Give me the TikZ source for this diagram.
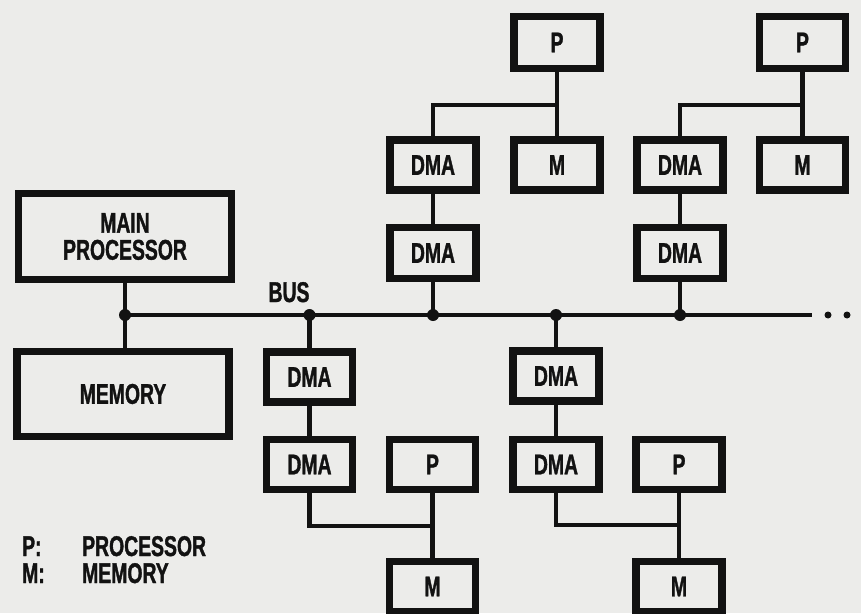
\documentclass[tikz,border=0pt]{standalone}
\usepackage{fontspec}
\newfontfamily\lblfont[FakeStretch=0.68,FakeBold=1.2]{Liberation Sans}
\newcommand\lbl{\lblfont\bfseries\fontsize{28.5}{27}\selectfont}
\definecolor{paper}{RGB}{236,236,234}
\definecolor{ink}{RGB}{18,18,18}
\begin{document}
\begin{tikzpicture}[x=1pt,y=-1pt,
  box/.style={draw=ink, line width=7.5pt, minimum width=86pt, minimum height=50pt, inner sep=0pt, font=\lbl, text=ink},
  ln/.style={draw=ink, line width=4.5pt},
  jdot/.style={circle, fill=ink, inner sep=0pt, minimum size=12pt},
  txt/.style={font=\lbl, text=ink, inner sep=0pt}]
\useasboundingbox (0,0) rectangle (861,613);
\clip (0,0) rectangle (861,613);
\fill[paper] (0,0) rectangle (861,613);

% main processor and memory
\node[box, minimum width=213pt, minimum height=86pt, align=center] (mp) at (125,236.5) {MAIN\\PROCESSOR};
\node[box, minimum width=212pt, minimum height=85pt] (mem) at (123,394) {MEMORY};

% bus
\coordinate (b0) at (125,315);
\coordinate (bend) at (812,315);
\coordinate (j1) at (309.5,315);
\coordinate (j2) at (433,315);
\coordinate (j3) at (556,315);
\coordinate (j4) at (680,315);
\draw[ln] (b0) -- (bend);
\draw[ln] (mp.south) -- (mp.south |- mem.north);
\node[txt, anchor=base] (bus) at (289,302) {BUS};
\fill[ink] (828,315) circle (3.5pt) (847,315) circle (3.5pt);

% upper left branch
\node[box, minimum height=51pt] (dA2) at (433,253) {DMA};
\node[box] (dA1) at (433,165) {DMA};
\node[box] (mA) at (557,165) {M};
\node[box, minimum height=52pt] (pA) at (557,42.5) {P};
\coordinate (tA) at (557,105);
\draw[ln] (j2) -- (dA2);
\draw[ln] (dA2) -- (dA1);
\draw[ln] (pA) -- (mA);
\draw[ln] (dA1.north) |- (tA);

% upper right branch
\node[box, minimum height=51pt] (dB2) at (680,253) {DMA};
\node[box] (dB1) at (680,165) {DMA};
\node[box] (mB) at (802.5,165) {M};
\node[box, minimum height=52pt] (pB) at (802.5,42.5) {P};
\coordinate (tB) at (802.5,105);
\draw[ln] (j4) -- (dB2);
\draw[ln] (dB2) -- (dB1);
\draw[ln] (pB) -- (mB);
\draw[ln] (dB1.north) |- (tB);

% lower left branch
\node[box] (dC1) at (309.5,377) {DMA};
\node[box] (dC2) at (309.5,464.5) {DMA};
\node[box] (pC) at (432.5,464.5) {P};
\node[box] (mC) at (432.5,586.5) {M};
\coordinate (tC) at (432.5,526);
\draw[ln] (j1) -- (dC1);
\draw[ln] (dC1) -- (dC2);
\draw[ln] (pC) -- (mC);
\draw[ln] (dC2.south) |- (tC);

% lower right branch
\node[box] (dD1) at (556,376) {DMA};
\node[box] (dD2) at (556,464.5) {DMA};
\node[box] (pD) at (679,464.5) {P};
\node[box] (mD) at (679,586.5) {M};
\coordinate (tD) at (679,525);
\draw[ln] (j3) -- (dD1);
\draw[ln] (dD1) -- (dD2);
\draw[ln] (pD) -- (mD);
\draw[ln] (dD2.south) |- (tD);

% junction dots
\foreach \j in {b0,j1,j2,j3,j4} \node[jdot] at (\j) {};

% legend
\node[txt, anchor=base west] (lp) at (22,556) {P:};
\node[txt, anchor=base west] (lpt) at (82,556) {PROCESSOR};
\node[txt, anchor=base west] (lm) at (22,583) {M:};
\node[txt, anchor=base west] (lmt) at (82,583) {MEMORY};
\end{tikzpicture}
\end{document}
